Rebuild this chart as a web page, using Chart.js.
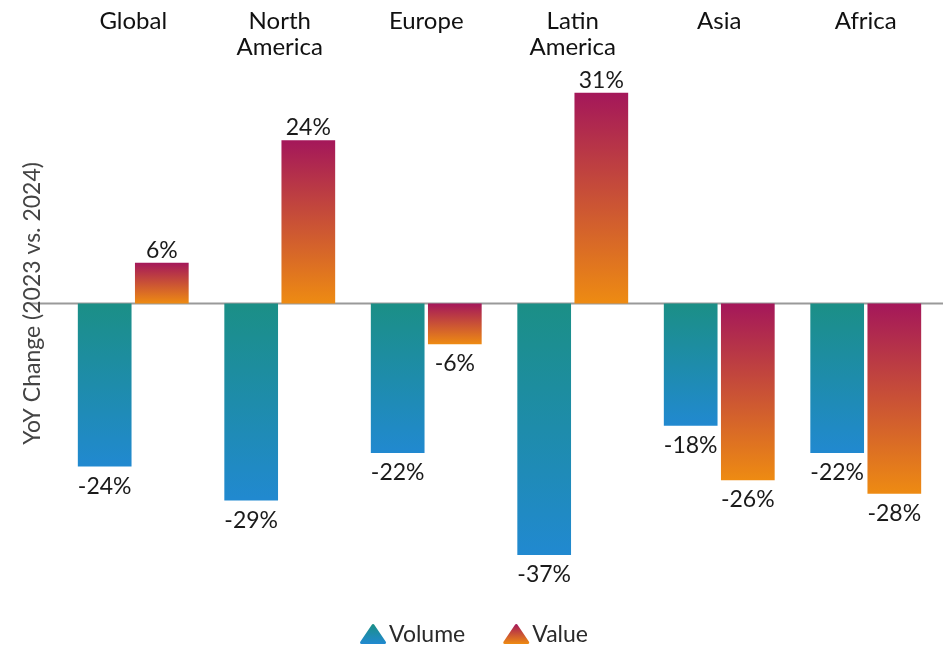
<!DOCTYPE html>
<html><head><meta charset="utf-8">
<script src="https://cdn.jsdelivr.net/npm/chart.js@4"></script>
<style>html,body{margin:0;padding:0;background:#fff}#wrap{width:944px;height:648px}</style>
</head><body><div id="wrap"><canvas id="c"></canvas></div>
<script>
const categories = [['Global'], ['North', 'America'], ['Europe'], ['Latin', 'America'], ['Asia'], ['Africa']];
const volumeValues = [-24, -29, -22, -37, -18, -22];
const valueValues = [6, 24, -6, 31, -26, -28];
const seriesNames = ['Volume', 'Value'];
const yTitle = 'YoY Change (2023 vs. 2024)';

const FONT = 'Lato, "Open Sans", sans-serif';
const grads = [['#1b8f86', '#2189d0'], ['#a4175a', '#ee8b12']];

function barGradient(ctx, idx) {
  const chart = ctx.chart;
  const area = chart.chartArea;
  if (!area) return grads[idx][0];
  const v = ctx.raw;
  const ys = chart.scales.y;
  const y0 = ys.getPixelForValue(0), y1 = ys.getPixelForValue(v);
  const top = Math.min(y0, y1), bot = Math.max(y0, y1);
  const g = chart.ctx.createLinearGradient(0, top, 0, bot);
  g.addColorStop(0, grads[idx][0]);
  g.addColorStop(1, grads[idx][1]);
  return g;
}

const zeroLine = {
  id: 'zeroLine',
  beforeDatasetsDraw(chart) {
    const y = Math.round(chart.scales.y.getPixelForValue(0)) + 0.5;
    const c = chart.ctx;
    c.save();
    c.strokeStyle = '#9a9a9a';
    c.lineWidth = 2;
    c.beginPath();
    c.moveTo(chart.chartArea.left - 30, y);
    c.lineTo(chart.width - 1, y);
    c.stroke();
    c.restore();
  }
};

// y-axis title, centred on the zero line as in the original
const yAxisTitle = {
  id: 'yAxisTitle',
  afterDraw(chart) {
    const c = chart.ctx;
    const y = chart.scales.y.getPixelForValue(0);
    c.save();
    c.translate(chart.chartArea.left - 27, y);
    c.rotate(-Math.PI / 2);
    c.font = '23px ' + FONT;
    c.fillStyle = '#444';
    c.textAlign = 'center';
    c.textBaseline = 'middle';
    c.fillText(yTitle, 0, 0);
    c.restore();
  }
};

const valueLabels = {
  id: 'valueLabels',
  afterDatasetsDraw(chart) {
    const c = chart.ctx;
    c.save();
    c.font = '23px ' + FONT;
    c.fillStyle = '#1a1a1a';
    c.textAlign = 'center';
    c.textBaseline = 'alphabetic';
    chart.data.datasets.forEach((ds, di) => {
      const meta = chart.getDatasetMeta(di);
      meta.data.forEach((bar, i) => {
        const v = ds.data[i];
        if (v >= 0) c.fillText(v + '%', bar.x, bar.y - 5);
        else c.fillText(v + '%', bar.x, bar.y + 27);
      });
    });
    c.restore();
  }
};

// Custom legend (triangle icons with gradient) centred below the plot
const triLegend = {
  id: 'triLegend',
  afterDraw(chart) {
    const c = chart.ctx;
    c.save();
    c.font = '23px ' + FONT;
    c.textBaseline = 'middle';
    c.textAlign = 'left';
    const cy = chart.chartArea.bottom + 28;
    const triW = 26, triH = 20, gapIcon = 3, gapItem = 38;
    const items = chart.data.datasets.map((ds, i) => ({ text: ds.label, w: triW + gapIcon + c.measureText(ds.label).width, i }));
    const total = items.reduce((s, it) => s + it.w, 0) + gapItem * (items.length - 1);
    let x = (chart.width - total) / 2 + 2;
    items.forEach(it => {
      const g = c.createLinearGradient(0, cy - triH / 2, 0, cy + triH / 2);
      g.addColorStop(0, grads[it.i][0]);
      g.addColorStop(1, grads[it.i][1]);
      c.fillStyle = g; c.strokeStyle = g; c.lineJoin = 'round'; c.lineWidth = 3;
      c.beginPath();
      c.moveTo(x + triW / 2, cy - triH / 2 + 1.5);
      c.lineTo(x + triW - 1.5, cy + triH / 2 - 1.5);
      c.lineTo(x + 1.5, cy + triH / 2 - 1.5);
      c.closePath();
      c.fill(); c.stroke();
      c.fillStyle = '#2a2a2a';
      c.fillText(it.text, x + triW + gapIcon, cy + 1);
      x += it.w + gapItem;
    });
    c.restore();
  }
};

new Chart(document.getElementById('c'), {
  type: 'bar',
  data: {
    labels: categories,
    datasets: [
      { label: seriesNames[0], data: volumeValues, backgroundColor: ctx => barGradient(ctx, 0), categoryPercentage: 0.78, barPercentage: 0.94 },
      { label: seriesNames[1], data: valueValues, backgroundColor: ctx => barGradient(ctx, 1), categoryPercentage: 0.78, barPercentage: 0.94 }
    ]
  },
  options: {
    responsive: true,
    maintainAspectRatio: false,
    animation: false,
    devicePixelRatio: 1,
    layout: { padding: { top: 5, right: 5, left: 60, bottom: 42 } },
    plugins: {
      tooltip: { enabled: false },
      legend: { display: false }
    },
    scales: {
      x: {
        position: 'top',
        grid: { display: false, drawTicks: false },
        border: { display: false },
        ticks: { font: { size: 24, family: FONT, lineHeight: 1.05 }, color: '#111', padding: 4, maxRotation: 0, crossAlign: 'far' }
      },
      y: {
        min: -44.5, max: 35.3,
        grid: { display: false, drawTicks: false },
        border: { display: false },
        ticks: { display: false },
        title: { display: false }
      }
    }
  },
  plugins: [zeroLine, valueLabels, yAxisTitle, triLegend]
});
</script>
</body></html>
